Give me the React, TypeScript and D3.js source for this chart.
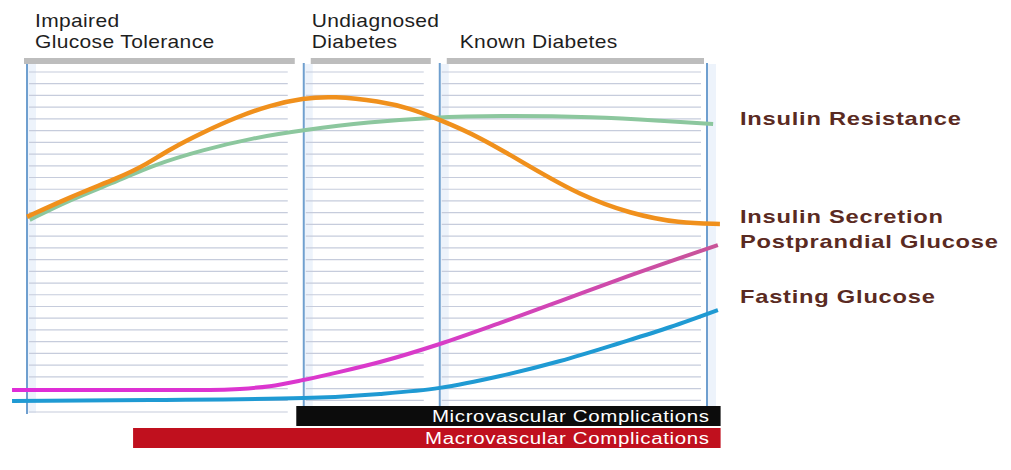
import * as d3 from 'd3';

// stage boundaries on a 0..100 time axis
const stageBounds = [0, 40.7, 60.7, 100];
const stageTitles = [
  ['Impaired', 'Glucose Tolerance'],
  ['Undiagnosed', 'Diabetes'],
  ['', 'Known Diabetes'],
];

type Pt = [number, number];

const insulinSecretion: Pt[] = [
  [0, 57.4], [6.3, 63.2], [13.7, 69.1], [17.1, 72.3], [21, 77.3], [25.9, 82.3],
  [30.9, 86.8], [35.7, 90.2], [40.6, 92.3], [45, 92.9], [51.9, 91.4], [56.3, 89.3],
  [60.4, 86.2], [66.6, 80.9], [74, 72.1], [81.3, 63.8], [88.7, 58.3], [96, 55.5],
  [101.9, 55.3],
];
const insulinResistance: Pt[] = [
  [0.4, 56.5], [6.3, 62.4], [13.7, 68.2], [18.5, 72.6], [25.9, 77.1], [33.2, 80.6],
  [40.6, 82.9], [50.4, 85.3], [59.3, 86.6], [69.1, 87.2], [83.8, 86.8], [93.5, 85.6],
  [100.9, 84.7],
];
const postprandialGlucose: Pt[] = [
  [-2.2, 6.5], [10.7, 6.5], [26.9, 6.5], [31.3, 6.8], [35.7, 7.6], [40.6, 9.4],
  [46, 11.8], [51.9, 14.7], [60.7, 20], [69.6, 26.2], [78.4, 32.6], [87.2, 39.1],
  [101.6, 49.1],
];
const fastingGlucose: Pt[] = [
  [-2.2, 3.2], [18.1, 3.5], [40.7, 4.1], [51.9, 5.3], [60.7, 7.1], [69.6, 10.6],
  [78.4, 15], [87.2, 20.3], [94.6, 25], [101.6, 30],
];

const seriesLabels = [
  { name: 'Insulin Resistance', at: 84.4 },
  { name: 'Insulin Secretion', at: 55.6 },
  { name: 'Postprandial Glucose', at: 48.2 },
  { name: 'Fasting Glucose', at: 32 },
];

const complications = [
  { name: 'Microvascular Complications', start: 39.6, end: 102, color: '#0c0c0c' },
  { name: 'Macrovascular Complications', start: 15.6, end: 102, color: '#c0101e' },
];

const gridCount = 29;

export default function App() {
  const width = 1011;
  const height = 470;
  const x = d3.scaleLinear([0, 100], [27, 707]);
  const y = d3.scaleLinear([0, 100], [412, 72]);

  const smooth = d3.line<Pt>((d) => x(d[0]), (d) => y(d[1])).curve(d3.curveBasis);
  const mono = d3.line<Pt>((d) => x(d[0]), (d) => y(d[1])).curve(d3.curveMonotoneX);

  const gridVals = d3.range(gridCount + 1).map((i) => (i * 100) / gridCount);
  // the source picture is stretched sideways, so its type is too
  const stretch = (tx: number, ty: number, sx: number) => `translate(${tx},${ty}) scale(${sx},1)`;

  return (
    <svg width={width} height={height} style={{ position: 'absolute', left: 0, top: 0, background: '#fff' }}
      fontFamily="'Liberation Sans', Arial, sans-serif">
      <defs>
        <linearGradient id="ppg" x1="0" x2="1" y1="0" y2="0">
          <stop offset="0%" stopColor="#e02cd8" />
          <stop offset="60%" stopColor="#d83cc8" />
          <stop offset="100%" stopColor="#c85498" />
        </linearGradient>
      </defs>

      {/* light blue bands by the vertical rules */}
      {stageBounds.map((b, i) => (
        <rect key={'band' + i} x={x(b) + 1} y={64} width={8} height={y(0) - 64 + 1} fill="#edf3fb" />
      ))}

      {/* horizontal grid per panel */}
      {stageBounds.slice(0, -1).map((b, i) => {
        const x0 = x(b) + 2;
        const x1 = x(stageBounds[i + 1]) - (i === 2 ? 6 : 16);
        return (
          <g key={'grid' + i} stroke="#c6ccdc" strokeWidth={1.2}>
            {gridVals.map((v, j) => (
              <line key={j} x1={x0} x2={x1} y1={y(v)} y2={y(v)} />
            ))}
          </g>
        );
      })}

      {/* vertical rules */}
      {stageBounds.map((b, i) => (
        <line key={'v' + i} x1={x(b)} x2={x(b)} y1={63} y2={y(0) + 2} stroke="#6f9fcf" strokeWidth={2} />
      ))}

      {/* header bars */}
      {stageBounds.slice(0, -1).map((b, i) => (
        <rect key={'hb' + i} x={x(b) + (i === 0 ? -3 : 7)} y={58}
          width={x(stageBounds[i + 1]) - x(b) - (i === 0 ? 0 : 10) - (i === 2 ? 0 : 6)} height={6} fill="#bdbdbd" />
      ))}

      {/* stage titles */}
      {stageTitles.map((t, i) => {
        const tx = x(stageBounds[i]) + (i === 2 ? 20 : 8);
        return (
          <g key={'t' + i} fill="#1e1e1e" fontSize={17.5} letterSpacing={0.3}>
            <text transform={stretch(tx, 27, 1.2)}>{t[0]}</text>
            <text transform={stretch(tx, 48, 1.2)}>{t[1]}</text>
          </g>
        );
      })}

      {/* curves */}
      <path d={smooth(insulinResistance) ?? ''} fill="none" stroke="#8cc79e" strokeWidth={4} />
      <path d={smooth(insulinSecretion) ?? ''} fill="none" stroke="#f0901c" strokeWidth={4.5} />
      <path d={mono(postprandialGlucose) ?? ''} fill="none" stroke="url(#ppg)" strokeWidth={4} />
      <path d={mono(fastingGlucose) ?? ''} fill="none" stroke="#1f9ad3" strokeWidth={4} />

      {/* series labels */}
      {seriesLabels.map((s) => (
        <text key={s.name} transform={stretch(740, y(s.at), 1.28)} fill="#5a2a22" fontSize={18.5}
          fontWeight="bold" letterSpacing={0.6}>
          {s.name}
        </text>
      ))}

      {/* complication bars */}
      {complications.map((c, i) => (
        <g key={c.name}>
          <rect x={x(c.start)} y={406 + i * 22} width={x(c.end) - x(c.start)} height={20} fill={c.color} />
          <text transform={stretch(x(c.end) - 11, 422 + i * 22, 1.28)} textAnchor="end" fill="#fff"
            fontSize={16} letterSpacing={0.5}>
            {c.name}
          </text>
        </g>
      ))}
    </svg>
  );
}
